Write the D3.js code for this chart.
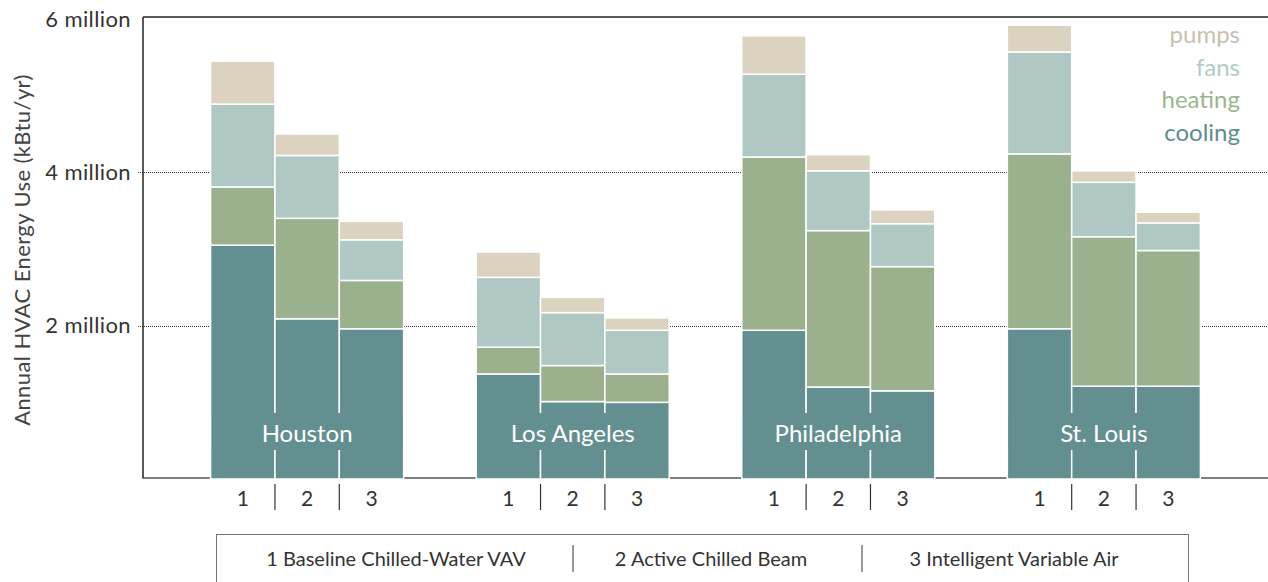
<!DOCTYPE html>
<html>
<head>
<meta charset="utf-8">
<script src="https://cdn.jsdelivr.net/npm/d3@7"></script>
<style>
body{margin:0;background:#fff;}
svg text{font-family:Lato,"Open Sans",sans-serif;}
</style>
</head>
<body>
<div id="chart"></div>
<script>
'use strict';
// data, in kBtu/yr, one value per city x system (city-major)
var cities = ["Houston","Los Angeles","Philadelphia","St. Louis"];
var systems = ["1","2","3"];
var systemNames = ["1 Baseline Chilled-Water VAV","2 Active Chilled Beam","3 Intelligent Variable Air"];
var uses = ["cooling","heating","fans","pumps"];
var cooling = [3050000,2090000,1960000, 1370000,1010000,1000000, 1940000,1200000,1150000, 1960000,1210000,1210000];
var heating = [ 760000,1310000, 630000,  350000, 470000, 370000, 2260000,2040000,1620000, 2280000,1950000,1770000];
var fans    = [1080000, 820000, 530000,  910000, 690000, 570000, 1080000, 780000, 560000, 1330000, 710000, 360000];
var pumps   = [ 560000, 280000, 240000,  330000, 200000, 160000,  500000, 210000, 180000,  350000, 150000, 140000];
var yTicks = [2000000,4000000,6000000];
var yTickLabels = ["2 million","4 million","6 million"];

var useColors = {cooling:"#648f91",heating:"#9bb18e",fans:"#b0c8c4",pumps:"#dbd2c0"};
var legendColors = {cooling:"#5d8d90",heating:"#9cb58e",fans:"#b0ccc7",pumps:"#c9c0b2"};

var rows = [];
cities.forEach(function(c,i){
    systems.forEach(function(s,j){
        var k = i*3+j;
        rows.push({city:c,system:s,cooling:cooling[k],heating:heating[k],fans:fans[k],pumps:pumps[k]});
    });
});

var W = 1268, H = 582;
var plotLeft = 143, plotTop = 17, plotBase = 479;

var svg = d3.select("#chart").append("svg")
    .attr("width", W)
    .attr("height", H);

var x0 = d3.scaleBand().domain(cities).range([plotLeft, W]).paddingInner(0.273).paddingOuter(0.2545);
var x1 = d3.scaleBand().domain(systems).range([0, x0.bandwidth()]);
var y = d3.scaleLinear().domain([0, 6000000]).range([plotBase, 19]);

// dotted grid lines
svg.append("g").selectAll("line")
    .data(yTicks.slice(0,2))
    .enter().append("line")
    .attr("x1", plotLeft-5).attr("x2", W)
    .attr("y1", function(d){ return Math.round(y(d))+0.5; })
    .attr("y2", function(d){ return Math.round(y(d))+0.5; })
    .attr("stroke", "#333")
    .attr("stroke-width", 1)
    .attr("stroke-dasharray", "1,1");

// frame: left axis, top line, bottom axis
svg.append("line").attr("x1",plotLeft).attr("x2",plotLeft).attr("y1",plotTop).attr("y2",plotBase-0.5)
    .attr("stroke","#222").attr("stroke-width",1.5);
svg.append("line").attr("x1",plotLeft).attr("x2",W).attr("y1",plotTop).attr("y2",plotTop)
    .attr("stroke","#222").attr("stroke-width",1.5);
svg.append("line").attr("x1",plotLeft).attr("x2",W).attr("y1",plotBase-1).attr("y2",plotBase-1)
    .attr("stroke","#555").attr("stroke-width",1.5);

// y tick labels
var yAxis = svg.append("g")
    .attr("transform","translate("+plotLeft+",0)")
    .call(d3.axisLeft(y).tickValues(yTicks).tickFormat(function(d,i){ return yTickLabels[i]; }).tickSize(0).tickPadding(12));
yAxis.select(".domain").remove();
yAxis.selectAll("text").attr("font-size",22).attr("letter-spacing","0.4px").attr("fill","#333")
    .style("font-family","Lato,'Open Sans',sans-serif");

svg.append("text")
    .attr("transform","translate(21,"+((plotTop+plotBase)/2+2)+") rotate(-90)")
    .attr("text-anchor","middle")
    .attr("dominant-baseline","central")
    .attr("font-size",22)
    .attr("letter-spacing","0.4px")
    .attr("fill","#444")
    .text("Annual HVAC Energy Use (kBtu/yr)");

// stacked bars
var stack = d3.stack().keys(uses)(rows);
svg.append("g").selectAll("g")
    .data(stack)
    .enter().append("g")
    .attr("fill", function(d){ return useColors[d.key]; })
    .selectAll("rect")
    .data(function(d){ return d; })
    .enter().append("rect")
    .attr("x", function(d){ return x0(d.data.city)+x1(d.data.system); })
    .attr("width", x1.bandwidth())
    .attr("y", function(d){ return y(d[1]); })
    .attr("height", function(d){ return y(d[0])-y(d[1]); })
    .attr("stroke", "#fff")
    .attr("stroke-width", 1.5);

// city labels sit on a cooling coloured band that hides the bar seams
var lab = svg.append("g").selectAll("g").data(cities).enter().append("g");
lab.append("rect")
    .attr("x", function(d){ return x0(d)+1.5; })
    .attr("width", x0.bandwidth()-3)
    .attr("y", 413).attr("height", 37)
    .attr("fill", useColors.cooling);
lab.append("text")
    .attr("x", function(d){ return x0(d)+x0.bandwidth()/2; })
    .attr("y", 432)
    .attr("text-anchor","middle")
    .attr("dominant-baseline","central")
    .attr("font-size",24)
    .attr("fill","#fff")
    .text(function(d){ return d; });

// system numbers under each bar and separators between them
var sub = svg.append("g").selectAll("g").data(cities).enter().append("g")
    .attr("transform", function(d){ return "translate("+x0(d)+",0)"; });
sub.selectAll("text").data(systems).enter().append("text")
    .attr("x", function(d){ return x1(d)+x1.bandwidth()/2; })
    .attr("y", 497)
    .attr("text-anchor","middle")
    .attr("dominant-baseline","central")
    .attr("font-size",21)
    .attr("fill","#333")
    .text(function(d){ return d; });
sub.selectAll("line").data(systems.slice(1)).enter().append("line")
    .attr("x1", function(d){ return x1(d); })
    .attr("x2", function(d){ return x1(d); })
    .attr("y1", 484).attr("y2", 510)
    .attr("stroke","#333").attr("stroke-width",1.2);

// legend top right
svg.append("g").selectAll("text")
    .data(uses.slice().reverse())
    .enter().append("text")
    .attr("x", 1240)
    .attr("y", function(d,i){ return 43+i*32.7; })
    .attr("text-anchor","end")
    .attr("font-size",24)
    .attr("fill", function(d){ return legendColors[d]; })
    .text(function(d){ return d; });

// system legend box at bottom
var legendCenters = [396, 711, 1014];
var legendSeps = [573, 862];
svg.append("rect").attr("x",216.5).attr("y",534.5).attr("width",972).attr("height",70)
    .attr("fill","none").attr("stroke","#777").attr("stroke-width",1);
svg.append("g").selectAll("line").data(legendSeps).enter().append("line")
    .attr("x1",function(d){ return d; }).attr("x2",function(d){ return d; })
    .attr("y1",545).attr("y2",572)
    .attr("stroke","#333").attr("stroke-width",1);
svg.append("g").selectAll("text").data(systemNames).enter().append("text")
    .attr("x",function(d,i){ return legendCenters[i]; })
    .attr("y",558)
    .attr("text-anchor","middle")
    .attr("dominant-baseline","central")
    .attr("font-size",20)
    .attr("fill","#333")
    .text(function(d){ return d; });
</script>
</body>
</html>
